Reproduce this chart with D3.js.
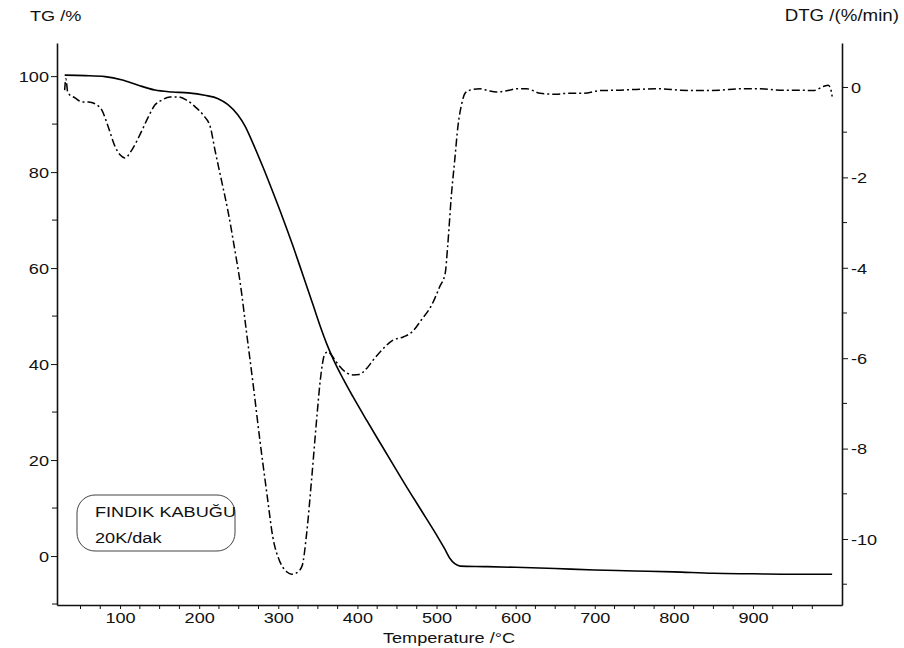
<!DOCTYPE html>
<html>
<head>
<meta charset="utf-8">
<script src="https://cdn.jsdelivr.net/npm/d3@7/dist/d3.min.js"></script>
<style>
  html, body { margin: 0; padding: 0; background: #fff; }
  svg { display: block; font-family: "Liberation Sans", Arial, sans-serif; }
</style>
</head>
<body>
<svg id="chart" width="904" height="648"></svg>
<script>
// Thermogravimetric analysis of hazelnut shell, 20 K/min
const tgTemp = [30, 56, 81, 103, 123, 144, 166, 186, 207, 224, 236, 249, 258, 268, 281, 293, 306, 319, 331, 344, 353, 362, 369, 382, 394, 412, 429, 445, 460, 480, 500, 510, 517, 523, 530, 560, 600, 650, 700, 750, 800, 850, 900, 950, 1000];
const tgMass = [100.2, 100.1, 99.9, 99.2, 98.1, 97.1, 96.7, 96.5, 96.0, 95.3, 94.1, 91.9, 89.6, 86.0, 80.9, 75.9, 70.3, 64.4, 58.6, 52.3, 47.9, 43.9, 41.2, 36.9, 33.3, 28.2, 23.5, 19.1, 15.0, 9.7, 4.4, 1.6, -0.5, -1.6, -2.1, -2.2, -2.35, -2.6, -2.9, -3.1, -3.3, -3.6, -3.7, -3.8, -3.8];

const dtgTemp = [30, 31.5, 34, 43, 52, 60, 71, 77, 85, 94, 100, 106, 115, 125, 135, 144, 153, 163, 173, 184, 195, 205, 214, 220, 228, 237, 245, 252, 260, 268, 277, 286, 293, 302, 311, 317, 323, 330, 336, 342, 349, 353, 359, 363, 368, 374, 387, 395, 402, 412, 420, 433, 445, 458, 469, 481, 494, 504, 511, 514, 519, 523, 527, 532, 536, 542, 555, 565, 576, 590, 602, 614, 631, 652, 665, 685, 707, 732, 757, 782, 808, 833, 858, 884, 909, 934, 959, 976, 989, 995, 999, 1000];
const dtgRate = [-0.07, 0.18, -0.13, -0.24, -0.33, -0.33, -0.40, -0.51, -0.88, -1.33, -1.50, -1.57, -1.39, -1.06, -0.69, -0.40, -0.29, -0.22, -0.22, -0.29, -0.44, -0.62, -0.88, -1.40, -2.05, -2.80, -3.60, -4.35, -5.45, -6.55, -7.85, -9.05, -9.95, -10.50, -10.73, -10.78, -10.75, -10.60, -9.85, -8.70, -7.25, -6.50, -5.90, -5.86, -5.95, -6.10, -6.33, -6.37, -6.36, -6.22, -6.04, -5.78, -5.60, -5.53, -5.42, -5.15, -4.82, -4.42, -4.12, -3.54, -2.35, -1.62, -0.88, -0.36, -0.14, -0.07, -0.04, -0.08, -0.11, -0.08, -0.04, -0.04, -0.14, -0.16, -0.14, -0.14, -0.08, -0.07, -0.05, -0.04, -0.07, -0.08, -0.07, -0.04, -0.04, -0.07, -0.07, -0.08, 0.01, 0.04, -0.10, -0.21];

const xTicks = [100, 200, 300, 400, 500, 600, 700, 800, 900];
const tgTicks = [0, 20, 40, 60, 80, 100];
const dtgTicks = [0, -2, -4, -6, -8, -10];
const sampleName = "FINDIK KABUĞU";
const heatingRate = "20K/dak";

const svg = d3.select("#chart");
const plotL = 57, plotR = 842, plotT = 43, plotB = 605;
const K = 1.17; // horizontal text stretch

const x = d3.scaleLinear().domain([20.3, 1012.5]).range([plotL, plotR]);
const yTG = d3.scaleLinear().domain([-10.2, 106.9]).range([plotB, plotT]);
const yDTG = d3.scaleLinear().domain([-11.46, 0.973]).range([plotB, plotT]);

function stretched(g, tx, ty, txt, anchor, size) {
  return g.append("text")
    .attr("transform", `translate(${tx},${ty}) scale(${K},1)`)
    .attr("text-anchor", anchor)
    .style("font-size", size + "px")
    .attr("fill", "#111")
    .text(txt);
}

// minor ticks
const minorX = d3.range(50, 1000, 25).filter(v => v % 100 !== 0);
svg.append("g").attr("transform", `translate(0,${plotB})`)
  .selectAll("line").data(minorX).join("line")
  .attr("x1", d => x(d)).attr("x2", d => x(d)).attr("y1", 0).attr("y2", 4)
  .attr("stroke", "#111").attr("stroke-width", 1);
const minorTG = d3.range(-10, 100, 20);
svg.append("g").selectAll("line").data(minorTG).join("line")
  .attr("x1", plotL - 5).attr("x2", plotL).attr("y1", d => yTG(d)).attr("y2", d => yTG(d))
  .attr("stroke", "#111").attr("stroke-width", 1);
const minorDTG = [-1, -3, -5, -7, -9, -11];
svg.append("g").selectAll("line").data(minorDTG).join("line")
  .attr("x1", plotR).attr("x2", plotR + 5).attr("y1", d => yDTG(d)).attr("y2", d => yDTG(d))
  .attr("stroke", "#111").attr("stroke-width", 1);

// axes
const gx = svg.append("g").attr("transform", `translate(0,${plotB})`)
  .call(d3.axisBottom(x).tickValues(xTicks).tickSize(4).tickSizeOuter(0));
const gl = svg.append("g").attr("transform", `translate(${plotL},0)`)
  .call(d3.axisLeft(yTG).tickValues(tgTicks).tickSize(6).tickSizeOuter(0));
const gr = svg.append("g").attr("transform", `translate(${plotR},0)`)
  .call(d3.axisRight(yDTG).tickValues(dtgTicks).tickFormat(d => d === 0 ? "0" : "-" + Math.abs(d)).tickSize(6).tickSizeOuter(0));

[gx, gl, gr].forEach(g => {
  g.attr("font-size", null).attr("font-family", null);
  g.select(".domain").attr("stroke", "#111").attr("stroke-width", 1.6);
  g.selectAll(".tick line").attr("stroke", "#111").attr("stroke-width", 1);
  g.selectAll(".tick text").attr("fill", "#111").style("font-size", "15.5px");
});
gx.selectAll(".tick text").attr("y", 0).attr("dy", null)
  .attr("transform", `translate(0,18) scale(${K},1)`);
gl.selectAll(".tick text").attr("x", 0).attr("dy", "0.34em")
  .attr("transform", `translate(-8,0) scale(${K},1)`);
gr.selectAll(".tick text").attr("x", 0).attr("dy", "0.34em")
  .attr("transform", `translate(9,0) scale(${K},1)`);

// titles
stretched(svg, 30, 21, "TG /%", "start", 15.5);
stretched(svg, 899, 21, "DTG /(%/min)", "end", 16);
stretched(svg, 449, 643, "Temperature /°C", "middle", 15.5);

// curves
const tgLine = d3.line().x((d, i) => x(tgTemp[i])).y(d => yTG(d)).curve(d3.curveMonotoneX);
svg.append("path").datum(tgMass).attr("d", tgLine)
  .attr("fill", "none").attr("stroke", "#000").attr("stroke-width", 1.6);

const dtgLine = d3.line().x((d, i) => x(dtgTemp[i])).y(d => yDTG(d)).curve(d3.curveMonotoneX);
svg.append("path").datum(dtgRate).attr("d", dtgLine)
  .attr("fill", "none").attr("stroke", "#000").attr("stroke-width", 1.5)
  .attr("stroke-dasharray", "8,3,2,3");

// sample label box
const lg = svg.append("g");
lg.append("rect").attr("x", 77).attr("y", 495).attr("width", 158).attr("height", 56)
  .attr("rx", 18).attr("ry", 18).attr("fill", "#fff").attr("stroke", "#444").attr("stroke-width", 1);
stretched(lg, 95, 517, sampleName, "start", 15.5);
stretched(lg, 95, 543, heatingRate, "start", 15.5);
</script>
</body>
</html>
